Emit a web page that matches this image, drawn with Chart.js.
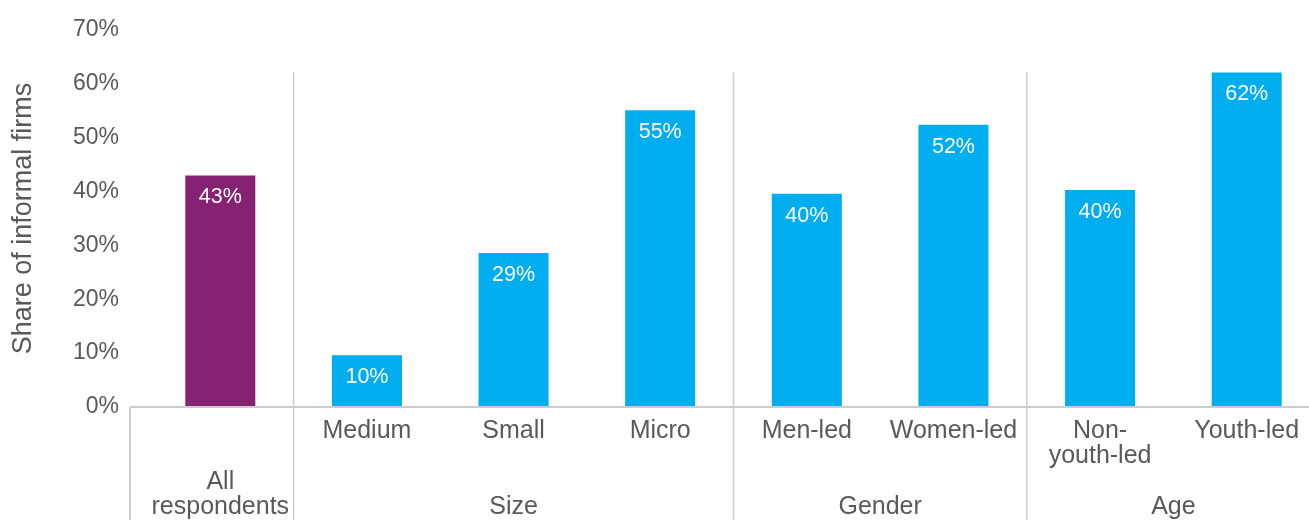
<!DOCTYPE html>
<html>
<head>
<meta charset="utf-8">
<script src="https://cdn.jsdelivr.net/npm/chart.js@4"></script>
<style>
  html, body { margin: 0; padding: 0; overflow: hidden; background: #fff; }
  #wrap { width: 1320px; height: 520px; }
</style>
</head>
<body>
<div id="wrap"><canvas id="c" width="1320" height="520"></canvas></div>
<script>
// ---- data ----
const categories = [
  ["", "", "All", "respondents"],
  ["Medium"],
  ["Small"],
  ["Micro"],
  ["Men-led"],
  ["Women-led"],
  ["Non-", "youth-led"],
  ["Youth-led"]
];
const shareValues = [43.0, 9.6, 28.6, 55.1, 39.6, 52.4, 40.3, 62.1];
const groupNames = ["Size", "Gender", "Age"];
const groupStart = [1, 4, 6];
const groupEnd = [3, 5, 7];
const yTicks = [0, 10, 20, 30, 40, 50, 60, 70];

const PURPLE = "#862272";
const BLUE = "#00AEEF";
const TEXT = "#595959";
const LINE = "#CCCCCC";
const FONT = "'Liberation Sans', Arial, Helvetica, sans-serif";

const barColors = shareValues.map((v, i) => i === 0 ? PURPLE : BLUE);

const decorPlugin = {
  id: "decor",
  afterDatasetsDraw(chart) {
    const ctx = chart.ctx;
    const xs = chart.scales.x, ys = chart.scales.y;
    const meta = chart.getDatasetMeta(0);
    const H = chart.height;
    const axisY = ys.getPixelForValue(0);
    const axisLeft = 130;
    ctx.save();
    // value labels
    ctx.fillStyle = "#ffffff";
    ctx.font = "21.5px " + FONT;
    ctx.textAlign = "center";
    ctx.textBaseline = "middle";
    meta.data.forEach((bar, i) => {
      ctx.fillText(Math.round(shareValues[i]) + "%", bar.x, bar.y + 22);
    });
    // axis line
    ctx.strokeStyle = LINE;
    ctx.lineWidth = 2;
    ctx.beginPath();
    ctx.moveTo(axisLeft, axisY);
    ctx.lineTo(chart.width, axisY);
    ctx.stroke();
    // left vertical line below axis
    ctx.beginPath();
    ctx.moveTo(axisLeft, axisY);
    ctx.lineTo(axisLeft, H);
    ctx.stroke();
    // group separators
    const topY = ys.getPixelForValue(Math.max(...shareValues));
    ctx.lineWidth = 1.5;
    groupStart.forEach(s => {
      const x = (xs.getPixelForValue(s - 1) + xs.getPixelForValue(s)) / 2;
      ctx.beginPath();
      ctx.moveTo(x, topY);
      ctx.lineTo(x, H);
      ctx.stroke();
    });
    // group labels
    ctx.fillStyle = TEXT;
    ctx.font = "25px " + FONT;
    ctx.textBaseline = "middle";
    groupNames.forEach((g, k) => {
      const x = (xs.getPixelForValue(groupStart[k]) + xs.getPixelForValue(groupEnd[k])) / 2;
      ctx.fillText(g, x, 507);
    });
    ctx.restore();
  }
};

new Chart(document.getElementById("c"), {
  type: "bar",
  data: {
    labels: categories,
    datasets: [{
      data: shareValues,
      backgroundColor: barColors,
      borderWidth: 0,
      barPercentage: 0.4775,
      categoryPercentage: 1.0
    }]
  },
  options: {
    responsive: false,
    animation: false,
    events: [],
    layout: { padding: { top: 30, left: 0, right: 0, bottom: 0 } },
    plugins: { legend: { display: false }, tooltip: { enabled: false } },
    scales: {
      x: {
        type: "category",
        offset: true,
        grid: { display: false, drawTicks: false },
        border: { display: false },
        ticks: {
          color: TEXT,
          font: { family: FONT, size: 25, lineHeight: "25.5px" },
          padding: 11,
          maxRotation: 0,
          autoSkip: false
        },
        afterFit(scale) { scale.height = 113; }
      },
      y: {
        min: 0,
        max: 70,
        grid: { display: false, drawTicks: false },
        border: { display: false },
        afterBuildTicks(scale) { scale.ticks = yTicks.map(v => ({ value: v })); },
        ticks: {
          color: TEXT,
          font: { family: FONT, size: 23 },
          padding: 28,
          callback: v => v + "%"
        },
        title: {
          display: true,
          text: "Share of informal firms",
          color: TEXT,
          font: { family: FONT, size: 27 },
          padding: { top: 7, bottom: 0 }
        },
        afterFit(scale) {
          scale.width = 147;
          scale.paddingTop = 0;
          scale.paddingBottom = 0;
        }
      }
    }
  },
  plugins: [decorPlugin]
});
</script>
</body>
</html>
